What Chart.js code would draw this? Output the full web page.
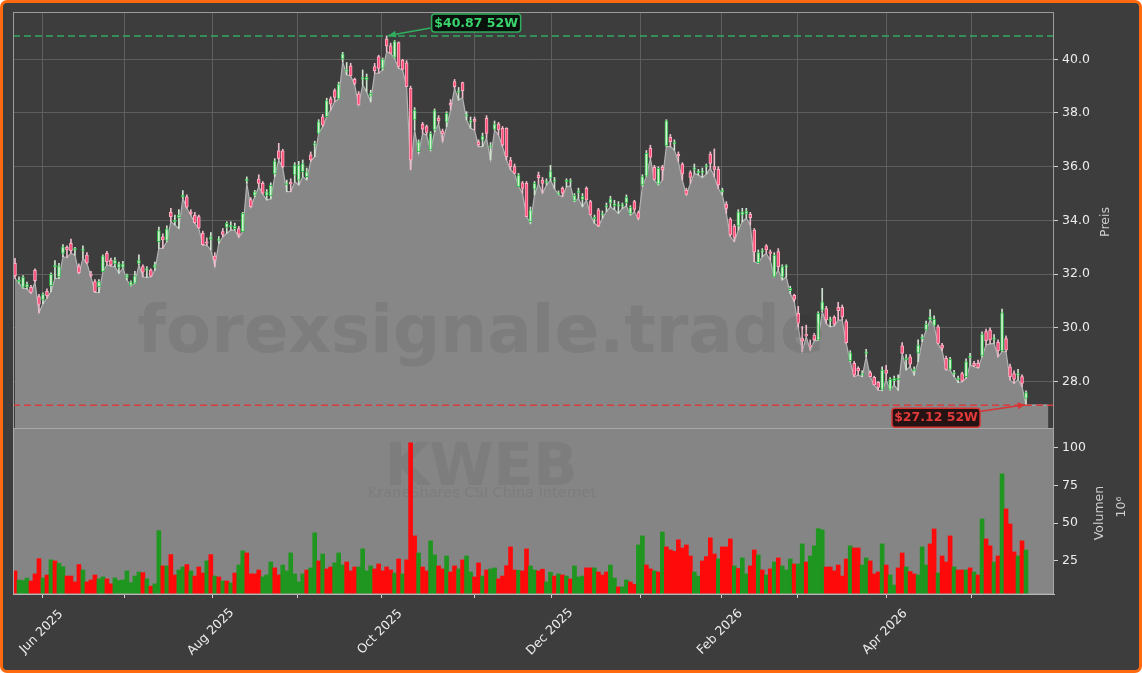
<!DOCTYPE html>
<html>
<head>
<meta charset="utf-8">
<title>KWEB</title>
<script src="https://cdn.jsdelivr.net/npm/chart.js@4.4.1/dist/chart.umd.min.js"></script>
<style>
  html, body { margin: 0; padding: 0; background: #ffffff; }
  #frame {
    position: absolute; left: 0; top: 0; width: 1142px; height: 673px;
    box-sizing: border-box; border: 3px solid #ff6a10; border-radius: 7px; background: #3d3d3d;
  }
  canvas { position: absolute; left: 0; top: 0; }
</style>
</head>
<body>
<div id="frame"></div>
<canvas id="priceChart" width="1142" height="673"></canvas>
<canvas id="volumeChart" width="1142" height="673"></canvas>
<script>
// x axis: trading-day index, month ticks
const tickPos = [7, 27.4, 49.4, 70.7, 91.7, 114.9, 134.2, 156.5, 176.8, 195.8, 218.1, 239.3];
const tickLabels = ['Jun 2025', '', 'Aug 2025', '', 'Oct 2025', '', 'Dec 2025', '', 'Feb 2026', '', 'Apr 2026', ''];
const priceTicks = [28, 30, 32, 34, 36, 38, 40];
const volumeTicks = [25, 50, 75, 100];
const high52 = 40.87;
const low52 = 27.12;
const fillEndIndex = 258.6; // grey area runs on a bit past the last candle

const opens = [
  32.40, 31.70, 31.51, 31.51, 31.51, 32.14, 31.16, 31.04, 31.36, 31.57,
  32.28, 31.90, 32.77, 33.00, 33.15, 32.90, 32.28, 32.88, 32.71, 32.00,
  31.72, 31.53, 32.09, 32.77, 32.52, 32.38, 32.25, 32.26, 31.88, 31.58,
  31.66, 32.40, 32.28, 32.15, 32.15, 32.25, 33.21, 33.39, 33.25, 34.30,
  33.95, 34.10, 34.88, 34.88, 34.30, 34.20, 34.14, 33.52, 33.20, 33.29,
  32.67, 33.25, 33.58, 33.74, 33.76, 33.69, 33.70, 33.58, 35.48, 34.78,
  34.93, 35.54, 35.38, 34.93, 34.91, 35.73, 36.59, 36.59, 35.33, 35.38,
  35.69, 35.50, 35.81, 35.63, 36.44, 36.80, 37.24, 37.86, 37.86, 38.53,
  38.83, 38.52, 40.01, 39.56, 39.75, 39.25, 38.71, 39.26, 39.23, 38.63,
  39.73, 40.10, 39.66, 40.75, 40.50, 40.07, 40.62, 39.97, 39.87, 38.92,
  37.74, 36.56, 37.58, 37.49, 36.62, 37.37, 37.81, 37.33, 37.66, 38.36,
  39.17, 38.77, 39.13, 37.88, 37.66, 37.76, 36.93, 36.99, 37.80, 36.73,
  37.39, 37.59, 37.43, 37.43, 36.25, 36.00, 35.26, 35.40, 35.38, 33.95,
  35.16, 35.69, 35.50, 35.41, 35.57, 35.45, 34.97, 35.19, 35.44, 35.43,
  34.73, 35.03, 34.78, 35.19, 34.70, 34.06, 34.39, 34.20, 34.50, 34.64,
  34.55, 34.53, 34.53, 34.66, 34.24, 34.70, 34.29, 35.32, 35.65, 36.68,
  35.98, 35.35, 35.98, 36.78, 37.09, 36.85, 36.47, 36.10, 35.13, 35.78,
  35.90, 35.78, 35.79, 35.99, 36.47, 36.00, 35.90, 35.07, 34.61, 34.05,
  33.79, 33.79, 34.20, 34.24, 34.23, 33.64, 32.43, 32.82, 33.05, 32.83,
  31.90, 32.84, 31.90, 32.26, 31.38, 31.21, 30.54, 29.60, 29.74, 29.35,
  29.72, 29.55, 30.66, 30.72, 30.27, 30.39, 30.76, 30.76, 30.23, 28.78,
  28.68, 28.49, 28.24, 29.05, 28.33, 28.16, 27.97, 27.71, 28.43, 27.71,
  28.03, 28.07, 29.33, 28.81, 28.92, 28.40, 29.07, 29.60, 29.92, 30.29,
  30.09, 30.04, 29.36, 28.86, 28.45, 28.28, 28.07, 28.30, 28.18, 28.89,
  28.68, 28.68, 28.95, 29.86, 29.92, 29.57, 29.46, 29.14, 29.60, 28.55,
  28.30, 28.24, 28.18, 27.37
];
const highs = [
  32.59, 31.90, 31.95, 31.70, 31.58, 32.20, 31.25, 31.30, 31.45, 32.05,
  32.50, 32.40, 33.10, 33.05, 33.30, 33.00, 32.38, 33.05, 32.80, 32.10,
  31.80, 31.80, 32.72, 32.85, 32.60, 32.62, 32.45, 32.48, 32.00, 31.75,
  32.10, 32.72, 32.35, 32.28, 32.20, 32.45, 33.75, 33.50, 33.80, 34.45,
  34.20, 34.40, 35.11, 34.95, 34.40, 34.30, 34.20, 33.60, 33.35, 33.55,
  32.80, 33.40, 33.70, 33.95, 33.95, 33.90, 33.78, 34.30, 35.62, 34.85,
  35.12, 35.70, 35.45, 35.15, 35.40, 36.30, 36.87, 36.65, 35.50, 35.55,
  36.15, 36.20, 36.25, 35.95, 36.55, 36.95, 37.75, 37.95, 38.55, 38.60,
  38.90, 39.15, 40.26, 39.88, 39.85, 39.30, 38.80, 39.60, 39.45, 38.85,
  39.85, 40.15, 40.05, 40.87, 40.60, 40.70, 40.65, 40.00, 39.95, 39.00,
  38.20, 37.00, 37.65, 37.55, 37.30, 38.15, 37.90, 37.40, 38.05, 38.50,
  39.25, 38.95, 39.15, 38.05, 37.85, 37.85, 37.00, 37.25, 37.90, 36.90,
  37.70, 37.65, 37.50, 37.45, 36.35, 36.10, 35.75, 35.45, 35.45, 34.50,
  35.45, 35.80, 35.60, 35.55, 36.05, 35.60, 35.10, 35.25, 35.55, 35.55,
  35.00, 35.20, 35.00, 35.25, 34.75, 34.20, 34.45, 34.35, 34.65, 34.90,
  34.75, 34.70, 34.65, 34.95, 34.55, 34.75, 34.35, 35.70, 36.60, 36.80,
  36.05, 36.00, 36.05, 37.75, 37.20, 37.00, 36.55, 36.15, 35.20, 35.85,
  36.10, 35.90, 35.95, 36.10, 36.55, 36.66, 36.00, 35.20, 34.70, 34.10,
  33.85, 34.40, 34.45, 34.45, 34.30, 33.70, 32.90, 32.95, 33.10, 32.90,
  32.80, 32.95, 32.35, 32.35, 31.55, 31.25, 30.80, 30.05, 30.10, 29.55,
  29.80, 30.60, 31.47, 30.80, 30.40, 30.45, 30.95, 30.85, 30.30, 29.15,
  28.75, 28.55, 28.40, 29.20, 28.40, 28.20, 28.00, 28.55, 28.60, 28.15,
  28.20, 28.25, 29.45, 29.00, 29.00, 28.55, 29.55, 29.75, 30.25, 30.68,
  30.45, 30.10, 29.42, 28.95, 28.90, 28.42, 28.20, 28.35, 28.85, 29.05,
  28.75, 28.80, 29.85, 29.95, 30.00, 29.75, 29.55, 30.70, 29.70, 28.65,
  28.40, 28.45, 28.25, 27.65
];
const lows = [
  31.84, 31.66, 31.48, 31.45, 31.28, 31.70, 30.56, 30.90, 31.10, 31.35,
  31.84, 31.84, 32.65, 32.62, 32.77, 32.71, 32.03, 32.59, 32.40, 31.90,
  31.32, 31.31, 32.09, 32.34, 32.30, 32.28, 32.03, 32.22, 31.78, 31.56,
  31.66, 32.34, 31.90, 31.88, 31.90, 32.15, 32.96, 32.96, 33.21, 33.95,
  33.83, 33.70, 34.82, 34.45, 34.20, 33.89, 33.70, 33.08, 33.08, 32.90,
  32.28, 33.15, 33.39, 33.52, 33.64, 33.64, 33.37, 33.58, 35.38, 34.49,
  34.88, 35.26, 34.98, 34.76, 34.80, 35.63, 36.25, 35.95, 35.07, 35.07,
  35.44, 35.32, 35.63, 35.51, 36.20, 36.37, 37.24, 37.49, 37.86, 38.11,
  38.42, 38.52, 39.91, 39.42, 39.38, 39.04, 38.30, 39.04, 38.79, 38.42,
  39.48, 39.48, 39.60, 40.28, 40.22, 40.03, 39.66, 39.60, 38.98, 35.88,
  37.37, 36.50, 37.24, 37.18, 36.60, 37.30, 37.60, 36.93, 37.49, 38.11,
  38.92, 38.48, 38.58, 37.74, 37.43, 37.36, 36.75, 36.75, 37.06, 36.25,
  37.37, 37.18, 36.75, 36.25, 35.88, 35.75, 35.26, 35.01, 34.14, 33.89,
  34.95, 35.38, 35.01, 35.32, 35.50, 35.19, 34.95, 34.88, 35.25, 35.28,
  34.70, 34.82, 34.51, 34.76, 34.20, 33.89, 33.77, 34.08, 34.33, 34.51,
  34.40, 34.26, 34.45, 34.53, 34.20, 34.32, 34.04, 35.26, 35.63, 36.31,
  35.50, 35.32, 35.50, 36.75, 36.75, 36.62, 36.19, 35.50, 34.95, 35.38,
  35.75, 35.69, 35.60, 35.72, 35.94, 35.63, 35.19, 34.95, 34.26, 33.40,
  33.21, 33.64, 33.95, 34.08, 33.83, 32.46, 32.40, 32.65, 32.77, 32.52,
  31.90, 32.15, 31.78, 31.90, 31.28, 30.97, 30.04, 29.11, 29.67, 29.17,
  29.52, 29.54, 30.60, 30.16, 30.04, 30.07, 30.29, 30.29, 29.42, 28.74,
  28.18, 28.24, 28.18, 28.92, 28.18, 27.87, 27.68, 27.66, 28.06, 27.68,
  27.87, 27.68, 29.05, 28.43, 28.55, 28.24, 28.74, 29.48, 29.92, 30.29,
  30.07, 29.40, 29.15, 28.43, 28.43, 28.18, 27.96, 27.99, 28.12, 28.61,
  28.55, 28.50, 28.92, 29.36, 29.40, 29.42, 28.92, 29.11, 29.11, 28.06,
  27.93, 28.08, 27.81, 27.12
];
const closes = [
  31.94, 31.78, 31.89, 31.63, 31.32, 31.76, 30.87, 31.26, 31.20, 31.99,
  32.30, 32.31, 33.02, 32.90, 32.87, 32.92, 32.05, 32.92, 32.42, 31.95,
  31.35, 31.72, 32.68, 32.46, 32.34, 32.52, 32.38, 32.38, 31.97, 31.71,
  31.94, 32.52, 32.07, 32.17, 31.92, 32.35, 33.62, 33.27, 33.69, 34.14,
  34.00, 34.20, 34.90, 34.49, 34.25, 33.92, 33.72, 33.10, 33.15, 33.39,
  32.53, 33.27, 33.48, 33.89, 33.78, 33.79, 33.48, 34.26, 35.50, 34.51,
  35.06, 35.38, 35.01, 35.06, 35.31, 36.21, 36.31, 36.00, 35.37, 35.36,
  36.06, 36.06, 36.12, 35.81, 36.25, 36.86, 37.68, 37.55, 38.46, 38.33,
  38.58, 39.08, 40.20, 39.60, 39.38, 39.10, 38.30, 39.28, 39.33, 38.73,
  39.58, 39.66, 40.01, 40.50, 40.22, 40.66, 39.73, 39.63, 38.98, 36.25,
  38.10, 36.93, 37.40, 37.28, 37.24, 38.09, 37.70, 37.22, 37.99, 38.29,
  38.98, 38.81, 38.83, 37.94, 37.70, 37.69, 36.81, 37.14, 37.24, 36.77,
  37.59, 37.37, 36.81, 36.37, 36.00, 35.75, 35.69, 35.19, 34.14, 34.39,
  35.38, 35.59, 35.38, 35.43, 35.84, 35.48, 35.00, 35.01, 35.46, 35.45,
  34.93, 35.10, 34.90, 34.76, 34.20, 34.08, 33.79, 34.22, 34.53, 34.80,
  34.62, 34.56, 34.57, 34.86, 34.49, 34.41, 34.08, 35.63, 36.50, 36.35,
  35.53, 35.94, 35.88, 37.71, 36.93, 36.89, 36.40, 35.73, 34.97, 35.60,
  35.92, 35.81, 35.82, 36.02, 36.12, 35.90, 35.32, 35.10, 34.45, 33.46,
  33.37, 34.32, 34.32, 34.35, 34.10, 32.83, 32.80, 32.85, 32.90, 32.77,
  32.71, 32.28, 32.28, 32.30, 31.47, 31.06, 30.17, 29.50, 29.70, 29.30,
  29.55, 30.54, 30.97, 30.29, 30.31, 30.14, 30.64, 30.41, 29.45, 29.07,
  28.24, 28.40, 28.26, 29.11, 28.18, 27.87, 27.78, 28.43, 28.30, 28.08,
  28.12, 28.09, 29.05, 28.85, 28.65, 28.43, 29.36, 29.64, 30.14, 30.41,
  30.32, 29.42, 29.24, 28.45, 28.83, 28.30, 28.09, 28.02, 28.74, 28.92,
  28.58, 28.53, 29.77, 29.52, 29.55, 29.60, 29.14, 30.56, 29.17, 28.18,
  28.08, 28.26, 27.93, 27.59
];
// volume in millions
const volumes = [
  18.4, 12.4, 12.0, 13.7, 11.7, 16.4, 26.5, 13.7, 15.7, 25.7,
  25.0, 23.5, 21.2, 15.0, 15.0, 11.1, 22.6, 19.0, 11.1, 12.4,
  15.7, 13.1, 14.4, 13.1, 9.8, 13.7, 12.0, 12.4, 18.4, 10.6,
  15.0, 17.7, 17.3, 13.1, 8.3, 9.8, 45.1, 21.7, 21.7, 29.2,
  15.7, 19.0, 21.0, 22.6, 18.4, 15.0, 21.0, 17.0, 25.0, 29.2,
  15.0, 14.4, 11.7, 11.7, 10.4, 17.0, 22.3, 31.6, 30.3, 16.4,
  16.4, 19.0, 14.4, 15.7, 24.3, 20.4, 15.7, 22.3, 18.4, 30.3,
  16.4, 11.1, 16.4, 19.0, 20.4, 43.6, 25.0, 29.6, 19.7, 21.0,
  23.7, 30.3, 22.3, 24.3, 18.4, 21.0, 21.0, 33.0, 18.4, 21.7,
  19.7, 23.0, 18.4, 21.0, 19.0, 17.0, 26.3, 16.4, 25.7, 103.3,
  41.6, 30.3, 21.0, 18.4, 38.3, 29.0, 21.7, 19.7, 28.3, 17.7,
  21.7, 19.7, 25.7, 28.3, 17.7, 14.4, 23.7, 15.0, 19.0, 19.7,
  20.4, 13.1, 15.0, 21.9, 34.3, 19.0, 18.8, 18.4, 33.0, 21.7,
  19.0, 18.4, 19.5, 11.1, 17.5, 15.0, 16.4, 15.7, 15.0, 13.1,
  21.7, 14.4, 15.0, 20.4, 20.4, 20.4, 17.7, 15.7, 17.7, 22.3,
  13.7, 7.8, 7.8, 12.4, 11.1, 9.5, 35.6, 41.6, 22.3, 19.7,
  18.4, 17.7, 44.2, 34.3, 32.3, 31.4, 39.0, 33.6, 35.6, 28.3,
  17.7, 15.0, 25.0, 27.9, 40.3, 29.6, 26.3, 34.3, 34.3, 39.6,
  21.7, 20.0, 27.0, 16.4, 21.7, 32.3, 29.0, 19.0, 15.7, 19.7,
  24.3, 27.0, 21.7, 19.0, 26.3, 23.0, 23.0, 36.3, 24.3, 28.3,
  35.0, 46.4, 45.6, 21.0, 21.0, 18.4, 22.3, 15.0, 26.3, 35.0,
  33.6, 33.6, 22.3, 27.0, 25.0, 16.4, 17.7, 36.3, 22.3, 15.7,
  9.0, 20.4, 30.3, 21.0, 18.0, 16.4, 15.7, 34.3, 22.3, 36.3,
  46.2, 17.0, 28.3, 24.3, 41.6, 21.0, 19.0, 19.0, 19.0, 20.4,
  17.7, 15.7, 52.8, 39.6, 35.0, 24.3, 28.3, 82.7, 59.5, 49.5,
  31.0, 28.3, 38.3, 32.3
];
// g = up day, r = down day (volume bar colour)
const volumeDir = [
  'rgggrrrgrg', 'rggrrrrgrr', 'rggrrggggg', 'ggrgrggrgr', 'rggrgrrrgr',
  'grgrgrggrr', 'rrgggrrggg', 'gggrggrgrr', 'gggrrrgggg', 'rrrrrgrgrr',
  'rgrrggrrgr', 'rgrggrrgrg', 'grrrrrgrrg', 'grrggrgrgr', 'gggrrgrrrg',
  'grggrrggrr', 'grgrrrrrrr', 'ggrrrrgrrr', 'grggrrgrgr', 'grgggrggrg',
  'gggrrrrrrg', 'rrggrrrgrg', 'grrgrrgggr', 'rgrrrgrrgr', 'grgrrgrgrr',
  'rgrg'
].join('');

Chart.defaults.font.family = '"DejaVu Sans", sans-serif';

const idx = opens.map((_, i) => i);
const isUp = idx.map(i => closes[i] >= opens[i]);

const gridColor = '#5e5e5e';
const tickMarkColor = '#d0d0d0';
const tickFont = { family: '"DejaVu Sans"', size: 12.5 };

function setTicks(values) {
  return scale => { scale.ticks = values.map(v => ({ value: v })); };
}

function drawTag(ctx, text, box, from, to, col, fill, txtCol) {
  ctx.fillStyle = fill;
  ctx.strokeStyle = col;
  ctx.lineWidth = 1.5;
  ctx.beginPath();
  ctx.roundRect(box[0], box[1], box[2], box[3], 3);
  ctx.fill();
  ctx.stroke();
  ctx.fillStyle = txtCol;
  ctx.font = 'bold 12.5px "DejaVu Sans"';
  ctx.textAlign = 'center';
  ctx.textBaseline = 'middle';
  ctx.fillText(text, box[0] + box[2] / 2, box[1] + box[3] / 2 + 0.5);
  ctx.beginPath();
  ctx.moveTo(from[0], from[1]);
  ctx.lineTo(to[0], to[1]);
  ctx.stroke();
  const ang = Math.atan2(to[1] - from[1], to[0] - from[0]);
  ctx.fillStyle = col;
  ctx.beginPath();
  ctx.moveTo(to[0], to[1]);
  ctx.lineTo(to[0] - 8 * Math.cos(ang - 0.45), to[1] - 8 * Math.sin(ang - 0.45));
  ctx.lineTo(to[0] - 8 * Math.cos(ang + 0.45), to[1] - 8 * Math.sin(ang + 0.45));
  ctx.closePath();
  ctx.fill();
}

// dashed 52W lines, frame, watermark, tags
const priceDecor = {
  id: 'priceDecor',
  afterDatasetsDraw(chart) {
    const { ctx, chartArea: a, scales: { x, y } } = chart;
    ctx.save();
    ctx.fillStyle = 'rgba(40,40,40,0.1)';
    ctx.font = 'bold 66px "DejaVu Sans"';
    ctx.textAlign = 'center';
    ctx.textBaseline = 'alphabetic';
    ctx.fillText('forexsignale.trade', 481, 352);

    ctx.lineWidth = 1.5;
    ctx.setLineDash([7, 4]);
    [[high52, '#33a862'], [low52, '#d83c3c']].forEach(([v, c]) => {
      const py = y.getPixelForValue(v);
      ctx.strokeStyle = c;
      ctx.beginPath();
      ctx.moveTo(a.left, py);
      ctx.lineTo(a.right, py);
      ctx.stroke();
    });
    ctx.setLineDash([]);

    ctx.strokeStyle = '#9c9c9c';
    ctx.lineWidth = 1;
    ctx.strokeRect(a.left + 0.5, a.top + 0.5, a.width - 1, a.height);

    const hiIdx = highs.indexOf(Math.max(...highs));
    const hx = x.getPixelForValue(hiIdx), hy = y.getPixelForValue(high52);
    drawTag(ctx, '$40.87 52W', [hx + 45, hy - 22, 89, 18], [hx + 44, hy - 8], [hx + 2, hy - 0.5],
      '#2fae5e', 'rgba(5,12,8,0.92)', '#3ad46c');

    const loIdx = lows.length - 1;
    const lx = x.getPixelForValue(loIdx), ly = y.getPixelForValue(low52);
    drawTag(ctx, '$27.12 52W', [lx - 134, ly + 3, 88, 19], [lx - 45, ly + 6], [lx - 1, ly - 0.5],
      '#d83434', 'rgba(28,8,8,0.92)', '#e23a3a');
    ctx.restore();
  }
};

new Chart(document.getElementById('priceChart'), {
  type: 'bar',
  data: {
    datasets: [
      {
        type: 'bar',
        label: 'body',
        data: idx.map(i => ({ x: i, y: [opens[i], closes[i]] })),
        backgroundColor: isUp.map(u => u ? '#d4f2d4' : '#ff4a78'),
        borderColor: isUp.map(u => u ? '#2fbf4a' : '#ffb0c2'),
        borderWidth: 1,
        borderSkipped: false,
        barThickness: 3,
        minBarLength: 1.5,
        grouped: false,
        order: 1
      },
      {
        type: 'bar',
        label: 'wick',
        data: idx.map(i => ({ x: i, y: [lows[i], highs[i]] })),
        backgroundColor: isUp.map(u => u ? '#cfe4cf' : '#eebccb'),
        borderWidth: 0,
        barThickness: 1,
        grouped: false,
        order: 2
      },
      {
        type: 'line',
        label: 'low',
        data: idx.map(i => ({ x: i, y: lows[i] })).concat([{ x: fillEndIndex, y: lows[lows.length - 1] }]),
        fill: 'start',
        backgroundColor: '#878787',
        borderColor: '#b4b4b4',
        borderWidth: 1.2,
        pointRadius: 0,
        tension: 0,
        order: 3
      }
    ]
  },
  options: {
    responsive: false,
    animation: false,
    layout: { padding: { left: 13, top: 12, right: 0, bottom: 245 } },
    plugins: { legend: { display: false }, tooltip: { enabled: false } },
    scales: {
      x: {
        type: 'linear', min: -0.5, max: 260, offset: false,
        afterBuildTicks: setTicks(tickPos),
        afterFit: s => { s.height = 0; },
        ticks: { display: false },
        grid: { color: gridColor, drawTicks: false, offset: false },
        border: { display: false }
      },
      y: {
        position: 'right', min: 26.27, max: 41.76,
        afterBuildTicks: setTicks(priceTicks),
        afterFit: s => { s.width = 88; },
        ticks: { color: '#ececec', font: tickFont, padding: 4, callback: v => v.toFixed(1) },
        grid: { color: gridColor, tickColor: tickMarkColor, tickLength: 4 },
        border: { display: false }
      }
    }
  },
  plugins: [priceDecor]
});

const volumeDecor = {
  id: 'volumeDecor',
  beforeDraw(chart) {
    const { ctx, chartArea: a } = chart;
    ctx.save();
    ctx.fillStyle = '#858585';
    ctx.fillRect(a.left, a.top, a.width, a.height);
    ctx.restore();
  },
  beforeDatasetsDraw(chart) {
    const { ctx } = chart;
    ctx.save();
    ctx.fillStyle = 'rgba(40,40,40,0.09)';
    ctx.textAlign = 'center';
    ctx.textBaseline = 'alphabetic';
    ctx.font = 'bold 58px "DejaVu Sans"';
    ctx.fillText('KWEB', 481, 485);
    ctx.font = '14.5px "DejaVu Sans"';
    ctx.fillText('KraneShares CSI China Internet', 482, 497);
    ctx.restore();
  },
  afterDraw(chart) {
    const { ctx, chartArea: a, scales: { x } } = chart;
    ctx.save();
    ctx.strokeStyle = '#a8a8a8';
    ctx.lineWidth = 1;
    ctx.strokeRect(a.left + 0.5, a.top + 0.5, a.width - 1, a.height - 0.5);

    // rotated month labels, centred under their tick like matplotlib
    ctx.fillStyle = '#ececec';
    ctx.font = '12.5px "DejaVu Sans"';
    ctx.textAlign = 'center';
    ctx.textBaseline = 'middle';
    tickPos.forEach((v, i) => {
      if (!tickLabels[i]) return;
      ctx.save();
      ctx.translate(x.getPixelForValue(v) - 1.5, 632);
      ctx.rotate(-Math.PI / 4);
      ctx.fillText(tickLabels[i], 0, 0);
      ctx.restore();
    });

    // axis titles (read bottom to top)
    ctx.fillStyle = '#cfcfcf';
    [['Preis', 1106, 222], ['Volumen', 1100, 513], ['10\u2076', 1122, 507]].forEach(([t, tx, ty]) => {
      ctx.save();
      ctx.translate(tx, ty);
      ctx.rotate(-Math.PI / 2);
      ctx.fillText(t, 0, 0);
      ctx.restore();
    });
    ctx.restore();
  }
};

new Chart(document.getElementById('volumeChart'), {
  type: 'bar',
  data: {
    datasets: [{
      label: 'Volumen',
      data: idx.map(i => ({ x: i, y: volumes[i] })),
      backgroundColor: idx.map(i => volumeDir[i] === 'g' ? '#1f961f' : '#ff0a0a'),
      borderWidth: 0,
      barPercentage: 1,
      categoryPercentage: 1
    }]
  },
  options: {
    responsive: false,
    animation: false,
    layout: { padding: { left: 13, top: 428, right: 0, bottom: 0 } },
    plugins: { legend: { display: false }, tooltip: { enabled: false } },
    scales: {
      x: {
        type: 'linear', min: -0.5, max: 260, offset: false,
        afterBuildTicks: setTicks(tickPos),
        afterFit: s => { s.height = 79; },
        ticks: { display: false },
        grid: { drawOnChartArea: false, drawTicks: true, tickLength: 4, tickColor: tickMarkColor, offset: false },
        border: { display: true, color: '#c4c4c4' }
      },
      y: {
        position: 'right', min: 3.1, max: 113.1,
        afterBuildTicks: setTicks(volumeTicks),
        afterFit: s => { s.width = 88; },
        ticks: { color: '#ececec', font: tickFont, padding: 4 },
        grid: { drawOnChartArea: false, tickColor: tickMarkColor, tickLength: 4 },
        border: { display: false }
      }
    }
  },
  plugins: [volumeDecor]
});
</script>
</body>
</html>
